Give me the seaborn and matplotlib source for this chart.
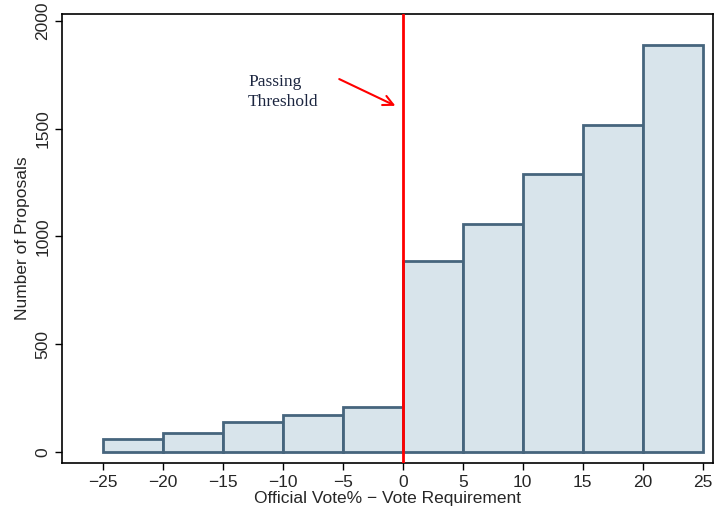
import numpy as np
import pandas as pd
import matplotlib
matplotlib.use("Agg")
import matplotlib.pyplot as plt
import seaborn as sns

# Histogram counts (bin left edges, width 5)
bin_left = [-25, -20, -15, -10, -5, 0, 5, 10, 15, 20]
counts = [62, 90, 139, 170, 210, 887, 1058, 1288, 1515, 1888]
bin_edges = [-25, -20, -15, -10, -5, 0, 5, 10, 15, 20, 25]
x_ticks = [-25, -20, -15, -10, -5, 0, 5, 10, 15, 20, 25]
y_ticks = [0, 500, 1000, 1500, 2000]

df = pd.DataFrame({"margin": np.array(bin_left) + 2.5, "n": counts})

sns.set_style("ticks")
plt.rcParams['font.family'] = ['Liberation Sans', 'DejaVu Sans']

fig = plt.figure(figsize=(7.22, 5.12), dpi=100)
ax = fig.add_axes([0.086, 0.096, 0.902, 0.877])

sns.histplot(data=df, x="margin", weights="n", bins=bin_edges, ax=ax,
             color="#d8e4eb", edgecolor="#46657d", linewidth=2, alpha=1)

# passing threshold line
ax.axvline(0, color="red", lw=2, zorder=5)
ax.annotate("", xy=(-0.4, 1600), xytext=(-5.5, 1735),
            arrowprops=dict(arrowstyle="->", color="red", lw=1.5, mutation_scale=18))
ax.text(-12.9, 1755, "Passing\nThreshold", family=["Liberation Serif"],
        fontsize=12.5, color="#1c2640", linespacing=1.35, va="top")

ax.set_xlim(-28.4, 25.9)
ax.set_ylim(-50, 2032)
ax.set_xticks(x_ticks)
ax.set_yticks(y_ticks)
ax.tick_params(axis="both", labelsize=12.5, length=5, width=1, color="black")
plt.setp(ax.get_yticklabels(), rotation=90, va="center")
ax.set_xlabel("Official Vote% \u2212 Vote Requirement", fontsize=12.5, labelpad=1)
ax.set_ylabel("Number of Proposals", fontsize=12.5, labelpad=4)
for s in ax.spines.values():
    s.set_visible(True)
    s.set_linewidth(1.2)
    s.set_color("black")

fig.savefig("out.png", dpi=100)
